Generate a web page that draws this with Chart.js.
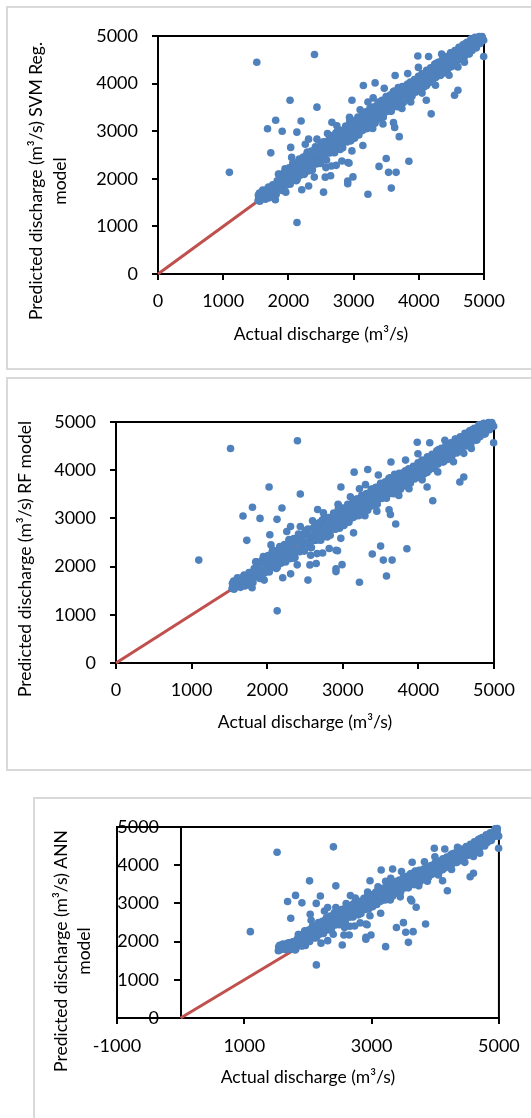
<!DOCTYPE html>
<html>
<head>
<meta charset="utf-8">
<script src="https://cdn.jsdelivr.net/npm/chart.js@4.4.1/dist/chart.umd.min.js"></script>
<style>
html,body{margin:0;padding:0;background:#fff;width:531px;height:1118px;overflow:hidden;position:relative;}
.frame{position:absolute;border:2px solid #d9d9d9;box-sizing:border-box;}
canvas{position:absolute;left:0;}
</style>
</head>
<body>
<div class="frame" style="left:6px;top:6px;width:600px;height:364px"></div>
<div class="frame" style="left:6px;top:377px;width:600px;height:394px"></div>
<div class="frame" style="left:33px;top:797px;width:600px;height:400px"></div>
<canvas id="c1" width="531" height="370" style="top:0"></canvas>
<canvas id="c2" width="531" height="400" style="top:375px"></canvas>
<canvas id="c3" width="531" height="328" style="top:790px"></canvas>
<script>
// ---- Actual discharge (m3/s), shared by all three models ----
const actualQ = [
 1535,1548,1556,1562,1575,1590,1604,1618,1633,1647,1660,1676,1690,1703,1718,1731,1745,1760,1772,1786,1800,
 1812,1828,1843,1857,1872,1888,1903,1918,1934,1949,1965,1980,1996,2011,2027,2042,2058,2073,2089,2104,2120,2135,2151,2166,2182,2197,2213,2228,2244,2259,2275,2290,
 2306,2321,2337,2352,2368,2383,2399,2414,2430,2445,2461,2476,2492,2507,2523,2538,2554,2569,2585,2600,2616,2631,2647,2662,2678,2693,2709,2724,2740,2755,2771,2786,2802,2817,2833,2848,2864,2879,2895,2910,2926,2941,2957,2972,2988,
 3003,3019,3034,3050,3065,3081,3096,3112,3127,3143,3158,3174,3189,3205,3220,3236,3251,3267,3282,3298,3313,3329,3344,3360,3375,3391,3406,3422,3437,3453,3468,3484,3499,3515,3530,3546,3561,3577,3592,3608,3623,3639,3654,3670,3685,3701,3716,3732,3747,3763,3778,3794,
 3809,3825,3840,3856,3871,3887,3902,3918,3933,3949,3964,3980,3995,4011,4026,4042,4057,4073,4088,4104,4119,4135,4150,4166,4181,4197,4212,4228,4243,4259,4274,4290,4305,4321,4336,4352,4367,4383,4398,4414,4429,4445,4460,4476,4491,
 4507,4522,4538,4553,4569,4584,4600,4615,4631,4646,4662,4677,4693,4708,4724,4739,4755,4770,4786,4801,4817,4832,4848,4863,4879,4894,4910,4925,4941,4956,4972,4940,4975,
 2945,2667,2744,2937,2438,3220,3293,3741,3876,4256,4464,4776,2820,2912,2974,2397,2575,2733,2259,2309,3470,3100,4350,2050,1960,3450,4050,4600,4700,2600,3300,
 1515,2400,1095,2025,2438,1805,1680,1905,2195,2130,1730,2035,2132,2205,2310,2539,3220,3578,3390,3536,3652,3500,3848,3700,3612,3630,3142,2910,2910,2990,2565,2648,2660,2930,3150,3330,2975,3637,3830,3985,4150,3994,4115,4190,4548,4600,4995,4995,
 1540,1562,1584,1606,1628,1650,1672,1694,1716,1738,1760,1782,
 1804,1826,1848,1870,1892,1914,1936,1958,1980,2002,2024,2046,2068,2090,2112,2134,2156,2178,2200,2222,2244,2266,2288,
 2310,2332,2354,2376,2398,2420,2442,2464,2486,2508,2530,2552,2574,2596,2618,2640,2662,2684,2706,2728,2750,2772,2794,2816,2838,2860,2882,2904,2926,2948,2970,2992,
 3014,3036,3058,3080,3102,3124,3146,3168,3190,3212,3234,3256,3278,3300,3322,3344,3366,3388,3410,3432,3454,3476,3498,3520,3542,3564,3586,3608,3630,3652,3674,3696,3718,3740,3762,3784,
 3806,3828,3850,3872,3894,3916,3938,3960,3982,4004,4026,4048,4070,4092,4114,4136,4158,4180,4202,4224,4246,4268,4290,4312,4334,4356,4378,4400,4422,4444,4466,4488,
 4510,4532,4554,4576,4598,4620,4642,4664,4686,4708,4730,4752,4774,4796,4818,4840,4862,4884,4906,4928,4950,4970
];
// ---- Predicted discharge, SVM Reg. model ----
const predSVM = [
 1545,1610,1700,1560,1650,1580,1740,1620,1680,1570,1770,1650,1720,1600,1810,1680,1760,1620,1850,1720,1560,
 1672,1958,1833,2097,1792,1948,1753,2098,1914,2209,1865,2090,2026,2231,1887,2192,2028,2343,1999,2184,1960,2335,2161,2416,2072,2307,2173,2458,2094,2419,2295,2560,
 2166,2391,2307,2582,2188,2523,2329,2674,2310,2535,2461,2676,2322,2657,2473,2778,2424,2619,2395,2780,2596,2891,2547,2772,2698,2913,2549,2864,2680,3005,2631,2856,2792,3017,2653,3008,2784,3109,2785,3010,2896,3201,2797,3102,2998,
 3213,2879,3114,3000,3295,2921,3246,3102,3317,3023,3218,3104,3409,3055,3340,3246,3481,3157,3372,3258,3513,3169,3484,3360,3605,3261,3476,3362,3647,3303,3578,3464,3729,3415,3680,3566,3761,3417,3672,3568,3843,3519,3774,3670,3915,3561,3776,3662,3937,3603,3908,3784,
 3959,3675,3880,3796,4031,3727,3992,3898,4083,3819,3994,3900,4155,3851,4106,4012,4197,3923,4098,4014,4279,3995,4210,4116,4331,4037,4312,4208,4403,4129,4314,4200,4455,4171,4406,4312,4527,4223,4418,4314,4569,4305,4540,4456,4641,
 4357,4582,4488,4693,4429,4684,4570,4765,4501,4676,4582,4817,4543,4788,4704,4869,4625,4810,4716,4941,4697,4912,4818,4973,4749,4954,4860,4975,4841,4976,4902,4985,4960,
 3266,3186,3114,3292,2833,3615,3056,3476,3615,3965,4175,4664,2374,2340,2586,2036,2235,2283,2727,2833,3900,3450,4620,2450,1720,3150,3800,4350,4450,2950,3700,
 4450,4610,2135,3650,3505,3230,3050,3000,3215,2980,2545,2660,1082,1770,1850,1720,1675,1805,2260,2135,2135,2425,2370,2885,3180,3080,2700,1896,1955,2040,2035,2065,2270,2330,3960,4015,3650,4170,4210,4580,4570,4340,3650,3365,3755,3860,4910,4570,
 1656,1529,1634,1766,1645,1733,1612,1827,1711,1805,1876,1749,
 1704,1876,2098,1860,2002,1764,2136,1908,2060,2172,1924,2096,2318,2080,2222,1984,2356,2128,2280,2392,2144,2316,2538,
 2277,2425,2174,2564,2323,2482,2598,2336,2516,2748,2497,2645,2394,2784,2543,2702,2818,2556,2736,2968,2717,2865,2614,3004,2763,2922,3038,2776,2956,3188,2937,3085,
 2854,3209,2993,3139,3246,3011,3176,3388,3163,3299,3074,3429,3213,3359,3466,3231,3396,3608,3383,3519,3294,3649,3433,3579,3686,3451,3616,3828,3603,3739,3514,3869,3653,3799,3906,3671,
 3806,3988,3802,3920,3734,4036,3858,3984,4078,3884,4026,4208,4022,4140,3954,4256,4078,4204,4298,4104,4246,4428,4242,4360,4174,4476,4298,4424,4518,4324,4466,4648,
 4458,4564,4404,4671,4518,4631,4716,4549,4676,4838,4678,4784,4624,4891,4738,4851,4936,4769,4896,4990,4898,4990
];
// ---- Predicted discharge, RF model (the source panel shows the same points as SVM) ----
const predRF = predSVM.slice();
// ---- Predicted discharge, ANN model ----
const predANN = [
 1760,1840,1905,1790,1870,1800,1930,1830,1880,1790,1940,1850,1900,1800,1960,1860,1920,1820,1990,1880,1780,
 1811,2063,1953,2185,1917,2054,1883,2186,2024,2284,1981,2179,2123,2303,2001,2269,2125,2402,2099,2262,2095,2425,2272,2496,2193,2400,2282,2533,2213,2499,2390,2623,
 2306,2504,2430,2672,2325,2620,2450,2753,2433,2631,2566,2755,2443,2738,2576,2845,2533,2705,2508,2846,2684,2944,2641,2839,2774,2963,2643,2920,2758,3044,2715,2913,2857,3055,2735,3047,2850,3136,2851,3049,2948,3217,2861,3130,3038,
 3227,2934,3140,3040,3300,2970,3256,3130,3319,3060,3232,3132,3400,3088,3339,3256,3463,3178,3367,3267,3491,3189,3466,3357,3572,3270,3459,3359,3609,3307,3549,3448,3682,3405,3638,3538,3710,3407,3631,3540,3782,3497,3721,3630,3845,3534,3723,3623,3865,3571,3839,3730,
 3884,3634,3814,3740,3947,3680,3913,3830,3993,3761,3915,3832,4056,3789,4013,3931,4093,3852,4006,3932,4166,3916,4105,4022,4211,3953,4195,4103,4275,4034,4196,4096,4320,4070,4277,4195,4384,4116,4288,4196,4421,4188,4395,4321,4484,
 4254,4452,4369,4550,4318,4542,4442,4613,4391,4545,4462,4669,4438,4653,4580,4725,4520,4683,4600,4798,4593,4783,4700,4846,4649,4840,4757,4868,4760,4889,4834,4950,4960,
 3274,3204,3140,3297,2893,3581,3089,3459,3581,3889,4074,4504,2489,2459,2676,2192,2367,2409,2800,2893,3832,3436,4466,2556,1900,3172,3744,4228,4316,2996,3656,
 4340,4480,2260,3590,3460,3210,3050,3015,3195,3000,2610,2715,1390,1960,2025,1910,1868,1980,2370,2245,2260,2496,2461,2898,3107,3063,2741,2060,2113,2173,2173,2173,2400,2440,3874,3901,3594,4076,4092,4442,4424,4223,3594,3332,3699,3788,4760,4442,
 1864,1787,1850,1930,1857,1910,1837,1966,1897,1953,1996,1919,
 1840,1991,2186,1977,2102,1892,2220,2019,2153,2251,2033,2184,2380,2170,2325,2116,2443,2243,2376,2475,2257,2408,2603,
 2404,2534,2313,2656,2444,2584,2686,2456,2614,2818,2597,2728,2507,2850,2638,2778,2880,2649,2808,3012,2791,2921,2700,3044,2831,2971,3073,2843,3001,3205,2985,3115,
 2912,3224,3034,3162,3256,3050,3195,3381,3183,3303,3105,3418,3227,3356,3450,3243,3388,3575,3377,3497,3299,3611,3421,3550,3644,3437,3582,3769,3571,3690,3492,3805,3615,3743,3837,3630,
 3749,3909,3746,3850,3686,3952,3795,3906,3989,3818,3943,4103,3939,4043,3880,4145,3989,4100,4182,4012,4136,4297,4133,4237,4073,4339,4182,4293,4376,4205,4330,4490,
 4343,4436,4296,4530,4406,4505,4580,4443,4555,4697,4567,4660,4529,4764,4639,4739,4824,4677,4798,4891,4820,4911
];
// ---- 1:1 reference line ----
const refLineX = [0, 5000];
const refLineY = [0, 5000];
// ---- Tick values ----
const ticksMain = [0, 1000, 2000, 3000, 4000, 5000];
const xTicksANN = [-1000, 1000, 3000, 5000];
const yTicksANN = [0, 1000, 2000, 3000, 4000, 5000];
// ---- Titles ----
const xTitleText = 'Actual discharge (m³/s)';
const yTitleSVM = ['Predicted discharge (m³/s) SVM Reg.', 'model'];
const yTitleRF = ['Predicted discharge (m³/s) RF model'];
const yTitleANN = ['Predicted discharge (m³/s) ANN', 'model'];

const BLUE = '#4f81bd', RED = '#c0504d';
const FAMILY = 'Lato';
const TICK_FONT = {family: FAMILY, size: 18};
const TITLE_SIZE = 17.5;

Chart.defaults.font.family = FAMILY;
Chart.defaults.color = '#000';

const setTicks = vals => s => { s.ticks = vals.map(v => ({value: v})); };

const framePlugin = {
  id: 'plotFrame',
  beforeDatasetsDraw(chart) {
    const {ctx, chartArea: a} = chart;
    ctx.save();
    ctx.strokeStyle = '#000';
    ctx.lineWidth = 2;
    ctx.strokeRect(a.left, a.top, a.right - a.left, a.bottom - a.top);
    ctx.restore();
  }
};

const yTitlePlugin = {
  id: 'yTitle',
  afterDraw(chart, args, o) {
    const ctx = chart.ctx;
    ctx.save();
    ctx.fillStyle = '#000';
    ctx.font = TITLE_SIZE + 'px ' + FAMILY;
    ctx.textAlign = 'center';
    ctx.textBaseline = 'middle';
    o.lines.forEach((t, i) => {
      ctx.save();
      ctx.translate(o.x + i * o.gap, o.y);
      ctx.rotate(-Math.PI / 2);
      ctx.fillText(t, 0, 0);
      ctx.restore();
    });
    ctx.restore();
  }
};

function xScale(min, max, vals, height, labelPad, titlePad) {
  return {
    type: 'linear', position: 'bottom', min, max,
    afterBuildTicks: setTicks(vals),
    afterFit: s => { s.height = height; },
    ticks: {font: TICK_FONT, color: '#000', padding: labelPad, maxRotation: 0, autoSkip: false, callback: v => String(v)},
    grid: {display: true, drawOnChartArea: false, drawTicks: true, tickLength: 6, color: '#000', lineWidth: 2},
    border: {display: true, color: '#000', width: 2},
    title: {display: true, text: xTitleText, color: '#000', font: {family: FAMILY, size: TITLE_SIZE}, padding: {top: 0, bottom: titlePad}}
  };
}

function yLeftScale(width, labelPad) {
  return {
    type: 'linear', position: 'left', min: 0, max: 5000,
    afterBuildTicks: setTicks(ticksMain),
    afterFit: s => { s.width = width; },
    ticks: {font: TICK_FONT, color: '#000', padding: labelPad, autoSkip: false, callback: v => String(v)},
    grid: {display: true, drawOnChartArea: false, drawTicks: true, tickLength: 6, color: '#000', lineWidth: 2},
    border: {display: true, color: '#000', width: 2}
  };
}

function makePanel(id, pred, padding, scales, yTitle) {
  const pts = actualQ.map((x, i) => ({x, y: pred[i]}));
  const ref = refLineX.map((x, i) => ({x, y: refLineY[i]}));
  return new Chart(document.getElementById(id), {
    type: 'scatter',
    data: {
      datasets: [
        {label: 'Predicted', data: pts, backgroundColor: BLUE, borderWidth: 0, pointRadius: 3.8, pointHoverRadius: 3.8, order: 1, clip: false},
        {label: '1:1', data: ref, showLine: true, borderColor: RED, borderWidth: 3, pointRadius: 0, order: 2, clip: false}
      ]
    },
    options: {
      responsive: false, animation: false, devicePixelRatio: 1, events: [],
      layout: {padding},
      plugins: {legend: {display: false}, tooltip: {enabled: false}, yTitle},
      scales
    },
    plugins: [framePlugin, yTitlePlugin]
  });
}

// Panel 1: SVM Reg.
makePanel('c1', predSVM, {left: 0, top: 36, right: 47, bottom: 0}, {
  x: xScale(0, 5000, ticksMain, 96, 10.7, 25.5),
  y: yLeftScale(158, 14)
}, {lines: yTitleSVM, x: 36.7, gap: 23.5, y: 181});

// Panel 2: RF
makePanel('c2', predRF, {left: 0, top: 47, right: 37, bottom: 0}, {
  x: xScale(0, 5000, ticksMain, 112, 10.2, 41.7),
  y: yLeftScale(116, 14)
}, {lines: yTitleRF, x: 25.2, gap: 0, y: 184});

// Panel 3: ANN (x axis from -1000, vertical axis crossing at x = 0, labels sit left of it)
makePanel('c3', predANN, {left: 117, top: 37, right: 31, bottom: 0}, {
  x: xScale(-1000, 5000, xTicksANN, 100, 11.2, 29.7),
  y: {
    type: 'linear', position: {x: 0}, min: 0, max: 5000,
    afterBuildTicks: setTicks(yTicksANN),
    ticks: {display: false},
    grid: {display: true, drawOnChartArea: false, drawTicks: true, tickLength: 6, color: '#000', lineWidth: 2},
    border: {display: true, color: '#000', width: 2}
  },
  yl: {
    type: 'linear', axis: 'y', position: {x: -340}, min: 0, max: 5000,
    afterBuildTicks: setTicks(yTicksANN),
    ticks: {font: TICK_FONT, color: '#000', padding: 0, autoSkip: false, callback: v => String(v)},
    grid: {display: false, drawTicks: false},
    border: {display: false}
  }
}, {lines: yTitleANN, x: 61, gap: 23.6, y: 161});
</script>
</body>
</html>
